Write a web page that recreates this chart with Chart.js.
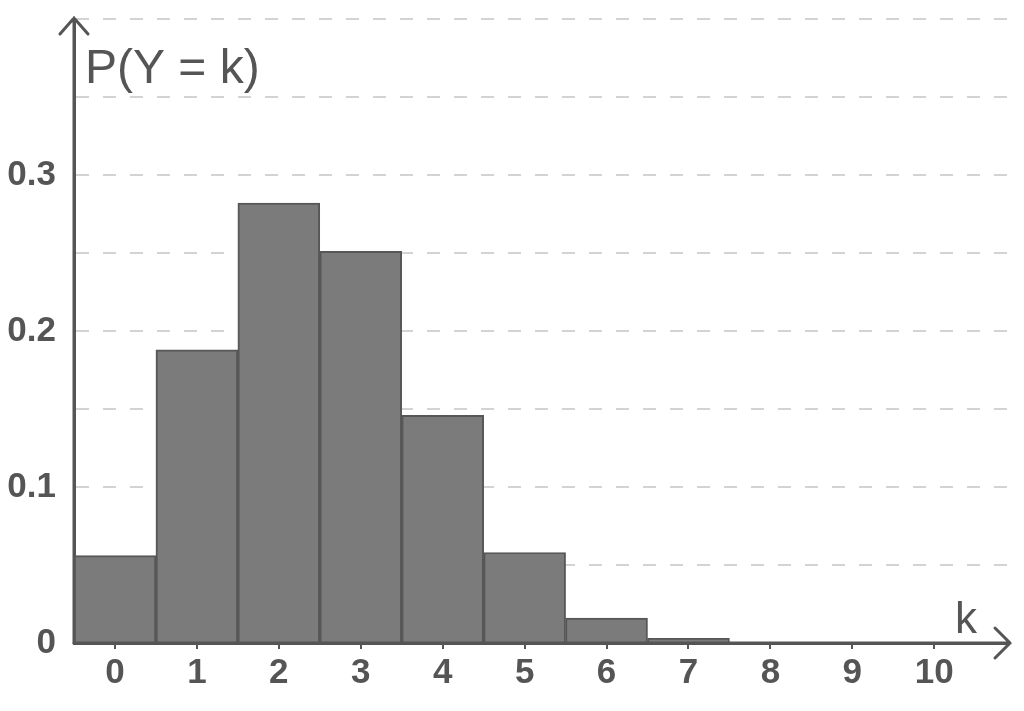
<!DOCTYPE html>
<html>
<head>
<meta charset="utf-8">
<script src="https://cdn.jsdelivr.net/npm/chart.js@4/dist/chart.umd.min.js"></script>
<style>
  html, body { margin: 0; padding: 0; background: #fff; }
  #wrap { width: 1024px; height: 711px; }
</style>
</head>
<body>
<div id="wrap"><canvas id="probChart" width="1024" height="711"></canvas></div>
<script>
// k values and P(Y = k)
const kValues = [0, 1, 2, 3, 4, 5, 6, 7, 8, 9, 10];
const probs = [0.056, 0.188, 0.282, 0.251, 0.146, 0.058, 0.016, 0.003, 0, 0, 0];
const yLabelTicks = [0, 0.1, 0.2, 0.3];

const yTitle = 'P(Y = k)';
const xTitle = 'k';

const axisColor = '#555555';
const fontFamily = '"Liberation Sans", Arial, sans-serif';

// Arrows at the ends of both axes + axis captions
const axisArrows = {
    id: 'axisArrows',
    afterDraw(chart) {
        const ctx = chart.ctx;
        const x = chart.scales.x;
        const y = chart.scales.y;
        const x0 = x.left;
        const y0 = y.getPixelForValue(0);
        const top = y.top;
        const right = x.right;

        ctx.save();
        ctx.strokeStyle = axisColor;
        ctx.lineWidth = 3;
        ctx.lineCap = 'round';
        ctx.setLineDash([]);

        // y arrow
        ctx.beginPath();
        ctx.moveTo(x0, y0);
        ctx.lineTo(x0, top - 1);
        ctx.moveTo(x0 - 14, top + 15);
        ctx.lineTo(x0, top - 1);
        ctx.lineTo(x0 + 14, top + 15);
        ctx.stroke();

        // x arrow
        ctx.beginPath();
        ctx.moveTo(x0, y0);
        ctx.lineTo(right + 2, y0);
        ctx.moveTo(right - 13, y0 - 15);
        ctx.lineTo(right + 2, y0);
        ctx.lineTo(right - 13, y0 + 15);
        ctx.stroke();

        ctx.fillStyle = axisColor;
        ctx.textBaseline = 'alphabetic';
        ctx.textAlign = 'left';
        ctx.font = '48px ' + fontFamily;
        ctx.fillText(yTitle, x0 + 11, top + 64);

        ctx.font = '44px ' + fontFamily;
        ctx.fillText(xTitle, right - 53, y0 - 10);
        ctx.restore();
    }
};

document.addEventListener('DOMContentLoaded', () => {
    const ctx = document.getElementById('probChart').getContext('2d');

    new Chart(ctx, {
        type: 'bar',
        data: {
            datasets: [{
                label: 'P(Y = k)',
                data: kValues.map((k, i) => ({ x: k, y: probs[i] })),
                backgroundColor: '#7b7b7b',
                borderColor: '#575757',
                borderWidth: 2,
                barPercentage: 1,
                categoryPercentage: 1
            }]
        },
        options: {
            responsive: false,
            animation: false,
            devicePixelRatio: 1,
            layout: {
                padding: { top: 19, right: 16, left: 0, bottom: 0 }
            },
            plugins: {
                legend: { display: false },
                tooltip: { enabled: false }
            },
            scales: {
                x: {
                    type: 'linear',
                    offset: false,
                    min: -0.5,
                    max: 10.9,
                    afterBuildTicks: (scale) => {
                        scale.ticks = kValues.map(v => ({ value: v }));
                    },
                    afterFit: (scale) => {
                        scale.height = 68;
                        scale.paddingLeft = 0;
                        scale.paddingRight = 0;
                    },
                    border: { display: true, color: axisColor, width: 3 },
                    grid: {
                        offset: false,
                        drawOnChartArea: false,
                        drawTicks: true,
                        tickLength: 6,
                        color: axisColor,
                        lineWidth: 2
                    },
                    ticks: {
                        autoSkip: false,
                        maxRotation: 0,
                        padding: 3,
                        color: axisColor,
                        font: { family: fontFamily, size: 35, weight: 'bold' },
                        callback: (v) => String(v)
                    }
                },
                y: {
                    min: 0,
                    max: 0.4,
                    afterBuildTicks: (scale) => {
                        const t = [];
                        for (let i = 0; i <= 8; i++) t.push({ value: i * 0.05 });
                        scale.ticks = t;
                    },
                    afterFit: (scale) => {
                        scale.width = 74;
                        scale.paddingTop = 0;
                        scale.paddingBottom = 0;
                    },
                    border: { display: true, color: axisColor, width: 3, dash: [13, 14] },
                    grid: {
                        color: (c) => c.tick && c.tick.value === 0 ? 'rgba(0,0,0,0)' : '#d3d3d3',
                        lineWidth: 2,
                        drawTicks: false
                    },
                    ticks: {
                        padding: 18,
                        color: axisColor,
                        font: { family: fontFamily, size: 35, weight: 'bold' },
                        callback: (v) => {
                            const hit = yLabelTicks.find(t => Math.abs(t - v) < 1e-9);
                            return hit === undefined ? '' : String(hit);
                        }
                    }
                }
            }
        },
        plugins: [axisArrows]
    });
});
</script>
</body>
</html>
